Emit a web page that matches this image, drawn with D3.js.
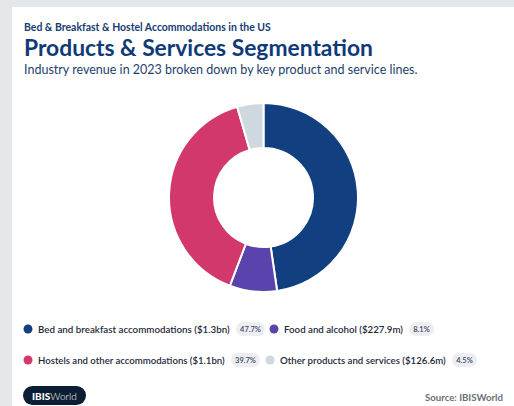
<!DOCTYPE html>
<html>
<head>
<meta charset="utf-8">
<script src="https://cdn.jsdelivr.net/npm/d3@7"></script>
<style>
  html, body { margin: 0; padding: 0; background: #e5e8eb; }
  svg { display: block; }
</style>
</head>
<body>
<svg id="chart" width="514" height="406"></svg>
<script>
// Revenue segments, 2023
const segments = ["Bed and breakfast accommodations", "Food and alcohol", "Hostels and other accommodations", "Other products and services"];
const revenueLabels = ["$1.3bn", "$227.9m", "$1.1bn", "$126.6m"];
const shares = [47.7, 8.1, 39.7, 4.5];
const colors = ["#113f80", "#5a43ad", "#d3386d", "#cfd8de"];

const svg = d3.select("#chart");
const font = "Lato, Inter, 'Open Sans', sans-serif";

// scale a text's font size so it spans the wanted width
function fitText(sel, width) {
  const fs = +sel.attr("font-size");
  const w = sel.node().getComputedTextLength();
  if (w > 0) sel.attr("font-size", (fs * width / w).toFixed(2));
  return sel;
}

// card
svg.append("rect").attr("x", 12).attr("y", 7).attr("width", 502).attr("height", 399).attr("fill", "#ffffff");

// headings
fitText(svg.append("text").attr("x", 24).attr("y", 31)
  .attr("font-family", font).attr("font-size", 10.5).attr("font-weight", 700)
  .attr("fill", "#163c72")
  .text("Bed & Breakfast & Hostel Accommodations in the US"), 247);
fitText(svg.append("text").attr("x", 24).attr("y", 56)
  .attr("font-family", font).attr("font-size", 22).attr("font-weight", 700)
  .attr("fill", "#0f3a78")
  .text("Products & Services Segmentation"), 349);
fitText(svg.append("text").attr("x", 24).attr("y", 74)
  .attr("font-family", font).attr("font-size", 12.5).attr("font-weight", 400)
  .attr("fill", "#1d3f6e")
  .text("Industry revenue in 2023 broken down by key product and service lines."), 394);

// donut
const cx = 263.5, cy = 197.5, rOuter = 94.5, rInner = 49.5;
const pie = d3.pie().sort(null).value(d => d)(shares);
const arc = d3.arc().innerRadius(rInner).outerRadius(rOuter);
svg.append("g").attr("transform", `translate(${cx},${cy})`)
  .selectAll("path").data(pie).join("path")
  .attr("d", arc)
  .attr("fill", (d, i) => colors[i])
  .attr("stroke", "#ffffff").attr("stroke-width", 2).attr("stroke-linejoin", "round");

// legend
const legendPos = [
  { x: 28, y: 329, textW: 192 },
  { x: 274, y: 329, textW: 119 },
  { x: 28, y: 360, textW: 187 },
  { x: 270, y: 360, textW: 166 }
];
segments.forEach((name, i) => {
  const p = legendPos[i];
  const g = svg.append("g");
  g.append("circle").attr("cx", p.x).attr("cy", p.y).attr("r", 4.5).attr("fill", colors[i]);
  const tx = p.x + 10;
  fitText(g.append("text").attr("x", tx).attr("y", p.y + 3.8)
    .attr("font-family", font).attr("font-size", 10.5).attr("font-weight", 600)
    .attr("fill", "#1e2a3a")
    .text(`${name} (${revenueLabels[i]})`), p.textW);
  const bx = tx + p.textW + 6;
  const label = `${shares[i]}%`;
  const bw = label.length > 4 ? 29 : 25;
  g.append("rect").attr("x", bx).attr("y", p.y - 7).attr("width", bw).attr("height", 14)
    .attr("rx", 7).attr("fill", "#eceef1");
  g.append("text").attr("x", bx + bw / 2).attr("y", p.y + 2.8)
    .attr("text-anchor", "middle")
    .attr("font-family", font).attr("font-size", 7.5).attr("font-weight", 600)
    .attr("fill", "#3a4660").text(label);
});

// footer
svg.append("rect").attr("x", 23).attr("y", 386).attr("width", 63).attr("height", 19)
  .attr("rx", 9.5).attr("fill", "#0c1e33");
const logo = svg.append("text").attr("x", 32).attr("y", 399.5)
  .attr("font-family", font).attr("font-size", 10).attr("fill", "#ffffff");
logo.append("tspan").attr("font-weight", 900).text("IBIS");
logo.append("tspan").attr("font-weight", 300).text("World");

fitText(svg.append("text").attr("x", 425).attr("y", 401)
  .attr("font-family", font).attr("font-size", 10.5).attr("font-weight", 700)
  .attr("fill", "#6b6f76").text("Source: IBISWorld"), 78);
</script>
</body>
</html>
